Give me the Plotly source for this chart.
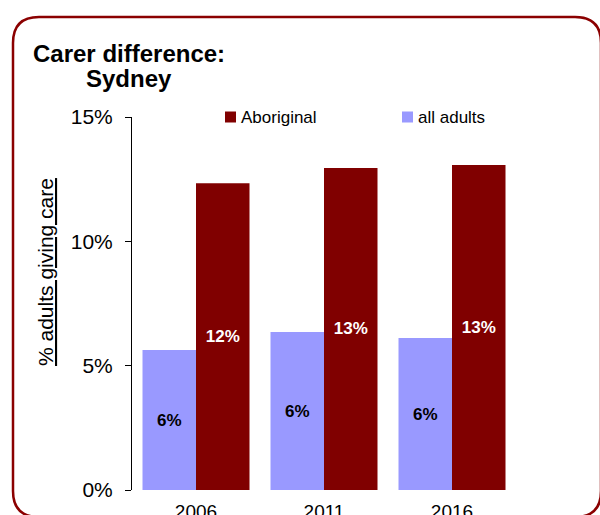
import plotly.graph_objects as go

# Carer rates, share of adults giving care
years = ["2006", "2011", "2016"]
all_adults = [0.0563, 0.0635, 0.0611]
aboriginal = [0.1234, 0.1295, 0.1307]

series_names = ["all adults", "Aboriginal"]
series_colors = ["#9999FF", "#800000"]
label_colors = ["#000000", "#FFFFFF"]

y_ticks = [0, 0.05, 0.10, 0.15]

# Page layout in pixels
W, H = 600, 515
L, R, T, B = 132, 84, 117, 25
pw, ph = W - L - R, H - T - B


def px(x):
    return (x - L) / pw


def py(y):
    return (H - B - y) / ph


fig = go.Figure()
for name, vals, col, tcol in zip(series_names, [all_adults, aboriginal], series_colors, label_colors):
    fig.add_trace(go.Bar(
        x=years, y=vals, name=name,
        marker=dict(color=col, line=dict(width=0)),
        texttemplate="%{y:.0%}",
        textposition="inside", insidetextanchor="middle", textangle=0,
        textfont=dict(family="Liberation Sans, Arial, sans-serif", size=17, color=tcol, weight="bold"),
        showlegend=False,
    ))

fig.update_layout(
    width=W, height=H,
    margin=dict(l=L, r=R, t=T, b=B, pad=0, autoexpand=False),
    paper_bgcolor="white", plot_bgcolor="white",
    barmode="group", bargap=0.164, bargroupgap=0,
    font=dict(family="Liberation Sans, Arial, sans-serif", color="#000000"),
)
fig.update_yaxes(
    range=[0, 0.15], tickvals=y_ticks, tickformat=".0%",
    showgrid=False, zeroline=False, automargin=False,
    showline=True, linecolor="#000000", linewidth=1,
    ticks="outside", ticklen=6, tickcolor="#000000",
    tickfont=dict(size=21), ticklabelstandoff=8,
)
fig.update_xaxes(
    showgrid=False, zeroline=False, showline=False, ticks="", automargin=False,
    tickfont=dict(size=19), ticklabelstandoff=8,
)

# Axis title
fig.add_annotation(
    text="<u>% adults giving care</u>", textangle=-90,
    x=px(45), y=py(272), xref="paper", yref="paper",
    xanchor="center", yanchor="middle", showarrow=False,
    font=dict(size=21),
)

# Chart title, two centred lines
fig.add_annotation(
    text="<b>Carer difference:</b>", x=px(128.5), y=py(53), height=22,
    xref="paper", yref="paper", xanchor="center", yanchor="middle",
    showarrow=False, font=dict(size=24),
)
fig.add_annotation(
    text="<b>Sydney</b>", x=px(128.5), y=py(78), height=28,
    xref="paper", yref="paper", xanchor="center", yanchor="middle",
    showarrow=False, font=dict(size=24),
)

# Legend: Aboriginal first, then all adults
legend_items = [(series_names[1], series_colors[1], 225), (series_names[0], series_colors[0], 402)]
for name, col, x0 in legend_items:
    fig.add_shape(type="rect", xref="paper", yref="paper",
                  x0=px(x0), x1=px(x0 + 11), y0=py(122.5), y1=py(111.5),
                  fillcolor=col, line=dict(width=0))
    fig.add_annotation(text=name, x=px(x0 + 14), y=py(117), xref="paper", yref="paper",
                       xanchor="left", yanchor="middle", showarrow=False,
                       font=dict(family="Liberation Sans Narrow, Arial Narrow, Liberation Sans, sans-serif", size=17))

# Rounded frame around the chart
x0, x1, y0, y1, r = 13, 601, 17, 517, 26
path = (
    f"M {px(x0 + r)},{py(y0)} L {px(x1 - r)},{py(y0)} "
    f"Q {px(x1)},{py(y0)} {px(x1)},{py(y0 + r)} "
    f"L {px(x1)},{py(y1 - r)} Q {px(x1)},{py(y1)} {px(x1 - r)},{py(y1)} "
    f"L {px(x0 + r)},{py(y1)} Q {px(x0)},{py(y1)} {px(x0)},{py(y1 - r)} "
    f"L {px(x0)},{py(y0 + r)} Q {px(x0)},{py(y0)} {px(x0 + r)},{py(y0)} Z"
)
fig.add_shape(type="path", path=path, xref="paper", yref="paper",
              line=dict(color="#8B0000", width=2.5), fillcolor="rgba(0,0,0,0)")

fig.write_html("out.html")
